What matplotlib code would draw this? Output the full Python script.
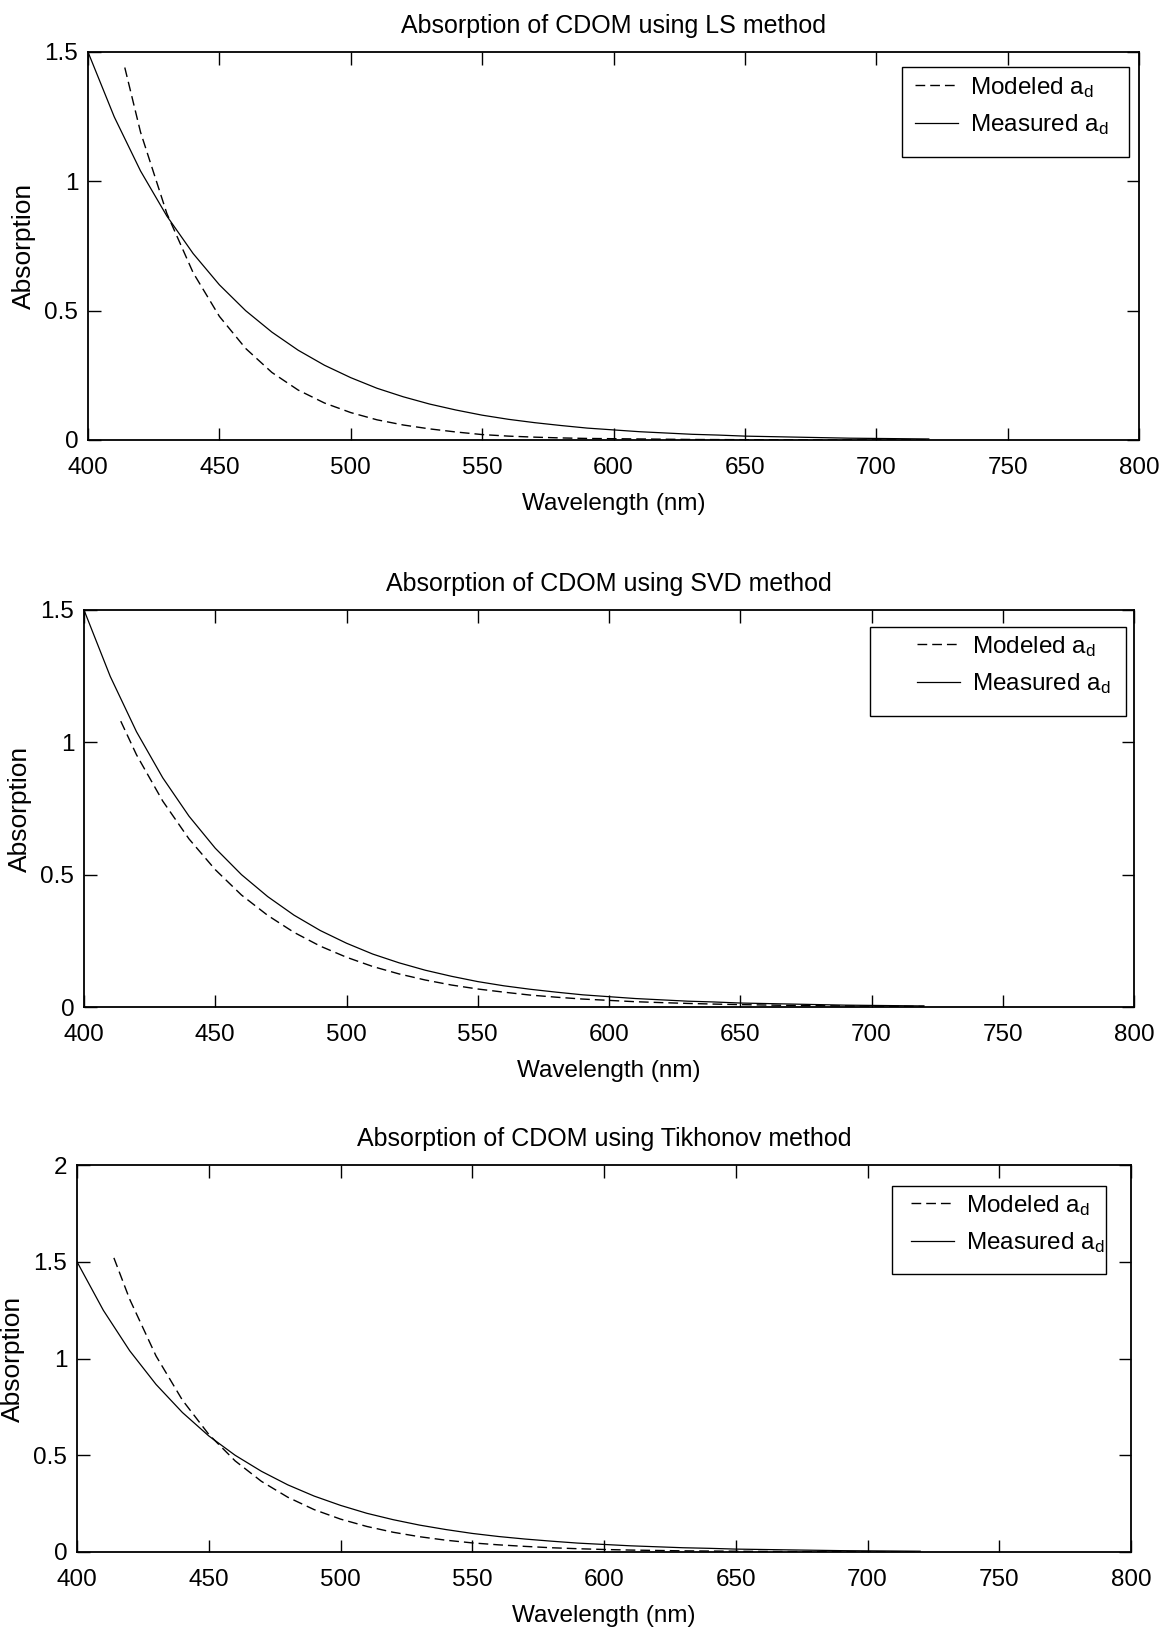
import matplotlib
matplotlib.use("Agg")
import matplotlib.pyplot as plt
from matplotlib.patches import Rectangle

plt.rcParams['font.family'] = ['Liberation Sans', 'DejaVu Sans']
plt.rcParams['mathtext.fontset'] = 'custom'
plt.rcParams['mathtext.rm'] = 'Liberation Sans'
plt.rcParams['mathtext.it'] = 'Liberation Sans:italic'

# ---------------- data ----------------
wl_measured = [400, 410, 420, 430, 440, 450, 460, 470, 480, 490, 500, 510, 520,
               530, 540, 550, 560, 570, 580, 590, 600, 610, 620, 630, 640, 650,
               660, 670, 680, 690, 700, 710, 720]
a_measured = [1.500, 1.249, 1.040, 0.866, 0.721, 0.600, 0.500, 0.417, 0.347,
              0.289, 0.241, 0.200, 0.167, 0.139, 0.116, 0.096, 0.080, 0.067,
              0.056, 0.046, 0.039, 0.032, 0.027, 0.022, 0.019, 0.015, 0.013,
              0.011, 0.009, 0.007, 0.006, 0.005, 0.004]

wl_model = [414, 420, 430, 440, 450, 460, 470, 480, 490, 500, 510, 520, 530,
            540, 550, 560, 570, 580, 590, 600, 610, 620, 630, 640, 650, 660,
            670, 680, 690, 700, 710, 720]
a_model_ls = [1.440, 1.190, 0.876, 0.647, 0.478, 0.354, 0.261, 0.193, 0.143,
              0.106, 0.078, 0.058, 0.043, 0.031, 0.021, 0.015, 0.011, 0.008,
              0.006, 0.005, 0.004, 0.003, 0.002, 0.0016, 0.0012, 0.0009,
              0.0007, 0.0005, 0.0004, 0.0003, 0.0002, 0.0002]
a_model_svd = [1.080, 0.953, 0.778, 0.635, 0.519, 0.423, 0.346, 0.282, 0.230,
               0.188, 0.153, 0.125, 0.102, 0.083, 0.068, 0.056, 0.045, 0.037,
               0.030, 0.025, 0.020, 0.0166, 0.0135, 0.011, 0.009, 0.0074,
               0.006, 0.0049, 0.004, 0.0033, 0.0027, 0.0022]
a_model_tik = [1.520, 1.306, 1.013, 0.785, 0.608, 0.471, 0.365, 0.283, 0.219,
               0.170, 0.132, 0.102, 0.079, 0.061, 0.047, 0.037, 0.029, 0.022,
               0.017, 0.013, 0.010, 0.008, 0.006, 0.005, 0.004, 0.003, 0.0023,
               0.0018, 0.0014, 0.0011, 0.0008, 0.0006]

titles = ["Absorption of CDOM using LS method",
          "Absorption of CDOM using SVD method",
          "Absorption of CDOM using Tikhonov method"]
models = [a_model_ls, a_model_svd, a_model_tik]
x_ticks = [400, 450, 500, 550, 600, 650, 700, 750, 800]
y_ticks_list = [[0, 0.5, 1, 1.5], [0, 0.5, 1, 1.5], [0, 0.5, 1, 1.5, 2]]
y_tick_labels_list = [["0", "0.5", "1", "1.5"], ["0", "0.5", "1", "1.5"],
                      ["0", "0.5", "1", "1.5", "2"]]
y_max_list = [1.5, 1.5, 2]
legend_labels = [r"Modeled a$_\mathrm{d}$", r"Measured a$_\mathrm{d}$"]
x_label = "Wavelength (nm)"
y_label = "Absorption"

# ---------------- layout ----------------
W, H = 1173, 1627
fig = plt.figure(figsize=(W / 100, H / 100), dpi=100)

# axes (left, right, top, bottom) in pixels
boxes = [(88, 1139, 52, 440), (84, 1134, 610, 1007), (77, 1131, 1165, 1552)]
# legend frame (left, right, top, bottom) in pixels
leg_frames = [(902, 1129, 67, 157), (870, 1126, 627, 716), (892, 1106, 1186, 1274)]
# legend content anchor (handle start x, top y) in pixels
leg_anchor = [(915, 75), (917, 634), (911, 1193)]

FS = 17.5
for i in range(3):
    l, r, t, b = boxes[i]
    ax = fig.add_axes([l / W, 1 - b / H, (r - l) / W, (b - t) / H])
    ax.plot(wl_model, models[i], color='black', lw=1.0, dashes=(7, 3.6),
            label=legend_labels[0])
    ax.plot(wl_measured, a_measured, color='black', lw=0.9,
            label=legend_labels[1])
    ax.set_xlim(400, 800)
    ax.set_ylim(0, y_max_list[i])
    ax.set_xticks(x_ticks)
    ax.set_xticklabels([str(v) for v in x_ticks])
    ax.set_yticks(y_ticks_list[i])
    ax.set_yticklabels(y_tick_labels_list[i])
    ax.tick_params(direction='in', length=9, width=1.0, top=True, right=True,
                   labelsize=FS, colors='black')
    ax.tick_params(axis='x', pad=12)
    ax.tick_params(axis='y', pad=7)
    for sp in ax.spines.values():
        sp.set_linewidth(1.3)
        sp.set_color('black')
    ax.set_title(titles[i], fontsize=18, pad=14)
    ax.set_xlabel(x_label, fontsize=FS, labelpad=10)
    ax.set_ylabel(y_label, fontsize=19, labelpad=6)

    fl, fr, ft, fb = leg_frames[i]
    ax.add_patch(Rectangle((fl / W, 1 - fb / H), (fr - fl) / W, (fb - ft) / H,
                           transform=fig.transFigure, facecolor='white',
                           edgecolor='black', lw=1.0, clip_on=False, zorder=4))
    hx, hy = leg_anchor[i]
    leg = ax.legend(loc='upper left', bbox_to_anchor=(hx / W, 1 - hy / H),
                    bbox_transform=fig.transFigure, borderaxespad=0,
                    borderpad=0, fontsize=17.5, frameon=False,
                    handlelength=1.75, handletextpad=0.5, labelspacing=0.5)
    leg.set_zorder(5)

fig.savefig("out.png", dpi=100, facecolor='white')
